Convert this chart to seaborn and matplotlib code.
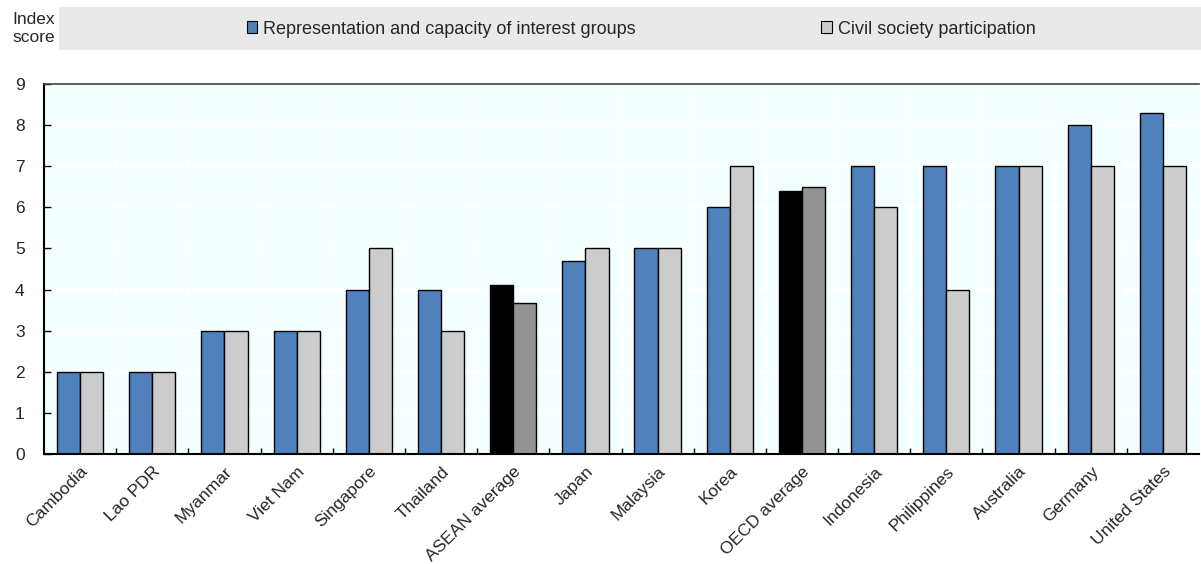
import matplotlib
matplotlib.use("Agg")
import matplotlib.pyplot as plt
from matplotlib.patches import Rectangle, Patch
import seaborn as sns
import pandas as pd

countries = ["Cambodia", "Lao PDR", "Myanmar", "Viet Nam", "Singapore", "Thailand",
             "ASEAN average", "Japan", "Malaysia", "Korea", "OECD average",
             "Indonesia", "Philippines", "Australia", "Germany", "United States"]
representation = [2, 2, 3, 3, 4, 4, 4.11, 4.7, 5, 6, 6.4, 7, 7, 7, 8, 8.3]
civil_society = [2, 2, 3, 3, 5, 3, 3.67, 5, 5, 7, 6.5, 6, 4, 7, 7, 7]
series_names = ["Representation and capacity of interest groups", "Civil society participation"]
averages = ["ASEAN average", "OECD average"]

BLUE, LIGHT = "#4F81BD", "#CCCCCC"
AVG_DARK, AVG_LIGHT = "#000000", "#929292"

df = pd.DataFrame({
    "country": countries * 2,
    "value": representation + civil_society,
    "series": [series_names[0]] * len(countries) + [series_names[1]] * len(countries),
})

sns.set_style("white")
plt.rcParams["font.family"] = ["Liberation Sans", "DejaVu Sans"]
FS = 13
plt.rcParams["font.size"] = FS

fig = plt.figure(figsize=(12.01, 5.64), dpi=100)
ax = fig.add_axes([44 / 1201, 1 - 454 / 564, 1155 / 1201, 370 / 564])
ax.set_facecolor("#F4FFFF")

sns.barplot(data=df, x="country", y="value", hue="series", order=countries,
            hue_order=series_names, palette=[BLUE, LIGHT], width=0.64,
            edgecolor="black", linewidth=1.0, saturation=1, ax=ax, legend=False)

# Recolour the average bars
n = len(countries)
for i, c in enumerate(countries):
    if c in averages:
        ax.patches[i].set_facecolor(AVG_DARK)
        ax.patches[n + i].set_facecolor(AVG_LIGHT)

ax.set_xlim(-0.5, n - 0.5)
ax.set_ylim(0, 9)
ax.set_yticks(range(0, 10))
ax.set_xlabel("")
ax.set_ylabel("")

# White grid: horizontal at integers, vertical between categories
for y in range(1, 9):
    ax.axhline(y, color="white", lw=1.5, zorder=0.5)
for x in range(n - 1):
    ax.axvline(x + 0.5, color="white", lw=1.5, zorder=0.5)

ax.set_xticks(range(n))
ax.set_xticklabels(countries, rotation=45, ha="right", rotation_mode="anchor")
ax.set_xticks([x + 0.5 for x in range(n - 1)], minor=True)
ax.tick_params(axis="x", which="major", length=0, pad=7, labelsize=12.5)
ax.tick_params(axis="x", which="minor", direction="in", length=4, width=1, color="black", bottom=True)
ax.tick_params(axis="y", direction="in", length=5, width=1, color="black", left=True, pad=14,
               labelsize=12.5)

for s in ["left", "bottom"]:
    ax.spines[s].set_color("black")
    ax.spines[s].set_linewidth(1.5)
ax.spines["top"].set_color("#444444")
ax.spines["top"].set_linewidth(1.2)
ax.spines["right"].set_visible(False)

# Legend band
fig.patches.append(Rectangle((59 / 1201, 1 - 50 / 564), 1142 / 1201, 43 / 564,
                             transform=fig.transFigure, facecolor="#E9E9E9",
                             edgecolor="none", zorder=0))
handles = [Patch(facecolor=BLUE, edgecolor="black", linewidth=0.8),
           Patch(facecolor=LIGHT, edgecolor="black", linewidth=0.8)]
fig.legend(handles, series_names, loc="center", ncol=2,
           bbox_to_anchor=(641 / 1201, 1 - 29 / 564), frameon=False,
           handlelength=0.6, handleheight=0.6, handletextpad=0.3,
           columnspacing=10.3, fontsize=FS)

fig.text(55 / 1201, 1 - 29 / 564, "Index\nscore", ha="right", va="center",
         fontsize=12.5, linespacing=1.25)

fig.savefig("out.png", dpi=100)
